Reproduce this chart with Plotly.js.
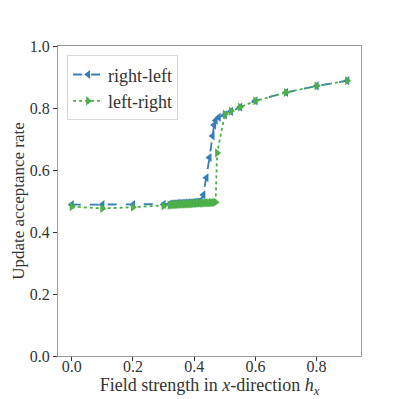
<!DOCTYPE html>
<html>
<head>
<meta charset="utf-8">
<script src="https://cdn.plot.ly/plotly-3.0.1.min.js"></script>
<style>html,body{margin:0;padding:0;background:#fff;}#chart{width:399px;height:399px;}</style>
</head>
<body>
<div id="chart"></div>
<script>
// right-left sweep (blue)
const xRightLeft = [0, 0.1, 0.2, 0.3,
  0.32, 0.325, 0.33, 0.335, 0.34, 0.345, 0.35, 0.355, 0.36, 0.365, 0.37,
  0.375, 0.38, 0.385, 0.39, 0.395, 0.40, 0.405, 0.41, 0.415, 0.42,
  0.43, 0.44, 0.45, 0.46, 0.465, 0.47, 0.48, 0.5, 0.52, 0.55, 0.6, 0.7, 0.8, 0.9];
const yRightLeft = [0.488, 0.488, 0.488, 0.489,
  0.490, 0.490, 0.491, 0.491, 0.491, 0.492, 0.492, 0.492, 0.492, 0.493, 0.493,
  0.493, 0.494, 0.494, 0.494, 0.495, 0.495, 0.496, 0.496, 0.497, 0.499,
  0.52, 0.575, 0.64, 0.71, 0.745, 0.76, 0.77, 0.778, 0.789, 0.803, 0.823, 0.850, 0.871, 0.888];

// left-right sweep (green)
const xLeftRight = [0, 0.1, 0.2, 0.3,
  0.32, 0.325, 0.33, 0.335, 0.34, 0.345, 0.35, 0.355, 0.36, 0.365, 0.37,
  0.375, 0.38, 0.385, 0.39, 0.395, 0.40, 0.405, 0.41, 0.415, 0.42,
  0.425, 0.43, 0.435, 0.44, 0.445, 0.45, 0.455, 0.46, 0.465, 0.47,
  0.475, 0.5, 0.52, 0.55, 0.6, 0.7, 0.8, 0.9];
const yLeftRight = [0.482, 0.476, 0.480, 0.484,
  0.487, 0.487, 0.488, 0.488, 0.488, 0.489, 0.489, 0.489, 0.490, 0.490, 0.490,
  0.490, 0.491, 0.491, 0.491, 0.491, 0.492, 0.492, 0.492, 0.493, 0.493,
  0.493, 0.493, 0.494, 0.494, 0.494, 0.494, 0.495, 0.495, 0.495, 0.496,
  0.655, 0.780, 0.790, 0.803, 0.823, 0.850, 0.871, 0.888];

const seriesNames = ['right-left', 'left-right'];
const xTicks = [0, 0.2, 0.4, 0.6, 0.8];
const xTickText = ['0.0', '0.2', '0.4', '0.6', '0.8'];
const yTicks = [0, 0.2, 0.4, 0.6, 0.8, 1.0];
const yTickText = ['0.0', '0.2', '0.4', '0.6', '0.8', '1.0'];

const FONT = '"Liberation Serif", serif';

const traces = [
  {x: xRightLeft, y: yRightLeft, name: seriesNames[0], type: 'scatter', mode: 'lines+markers',
   line: {color: '#377eb8', width: 1.8, dash: 'dash'},
   marker: {symbol: 'triangle-left', size: 8, color: '#377eb8'}},
  {x: xLeftRight, y: yLeftRight, name: seriesNames[1], type: 'scatter', mode: 'lines+markers',
   line: {color: '#4daf4a', width: 1.8, dash: 'dot'},
   marker: {symbol: 'triangle-right', size: 8, color: '#4daf4a'}}
];

const layout = {
  width: 399, height: 399,
  margin: {l: 58, r: 38, t: 46, b: 43},
  paper_bgcolor: '#fff', plot_bgcolor: '#fff',
  font: {family: FONT, size: 16, color: '#333'},
  showlegend: true,
  legend: {x: 0.03, y: 0.97, xanchor: 'left', yanchor: 'top',
           bgcolor: 'rgba(255,255,255,0.9)', bordercolor: '#d8d8d8', borderwidth: 1,
           font: {family: FONT, size: 18, color: '#333'}, tracegroupgap: 0},
  xaxis: {range: [-0.045, 0.945], tickvals: xTicks, ticktext: xTickText,
          showgrid: false, zeroline: false, showline: true, mirror: true,
          linecolor: '#9a9a9a', linewidth: 1, ticks: 'outside', ticklen: 4, tickcolor: '#333',
          ticklabelstandoff: -8,
          tickfont: {family: FONT, size: 16, color: '#333'},
          title: {text: 'Field strength in <i>x</i>-direction <i>h</i><sub><i>x</i></sub>',
                  font: {family: FONT, size: 18, color: '#333'}, standoff: 0}},
  yaxis: {range: [0, 1.0], tickvals: yTicks, ticktext: yTickText,
          showgrid: false, zeroline: false, showline: true, mirror: true,
          linecolor: '#9a9a9a', linewidth: 1, ticks: 'outside', ticklen: 4, tickcolor: '#333',
          ticklabelstandoff: 0,
          tickfont: {family: FONT, size: 16, color: '#333'},
          title: {text: 'Update acceptance rate', font: {family: FONT, size: 17, color: '#333'}, standoff: 0}}
};

Plotly.newPlot('chart', traces, layout, {displayModeBar: false, staticPlot: true});
</script>
</body>
</html>
